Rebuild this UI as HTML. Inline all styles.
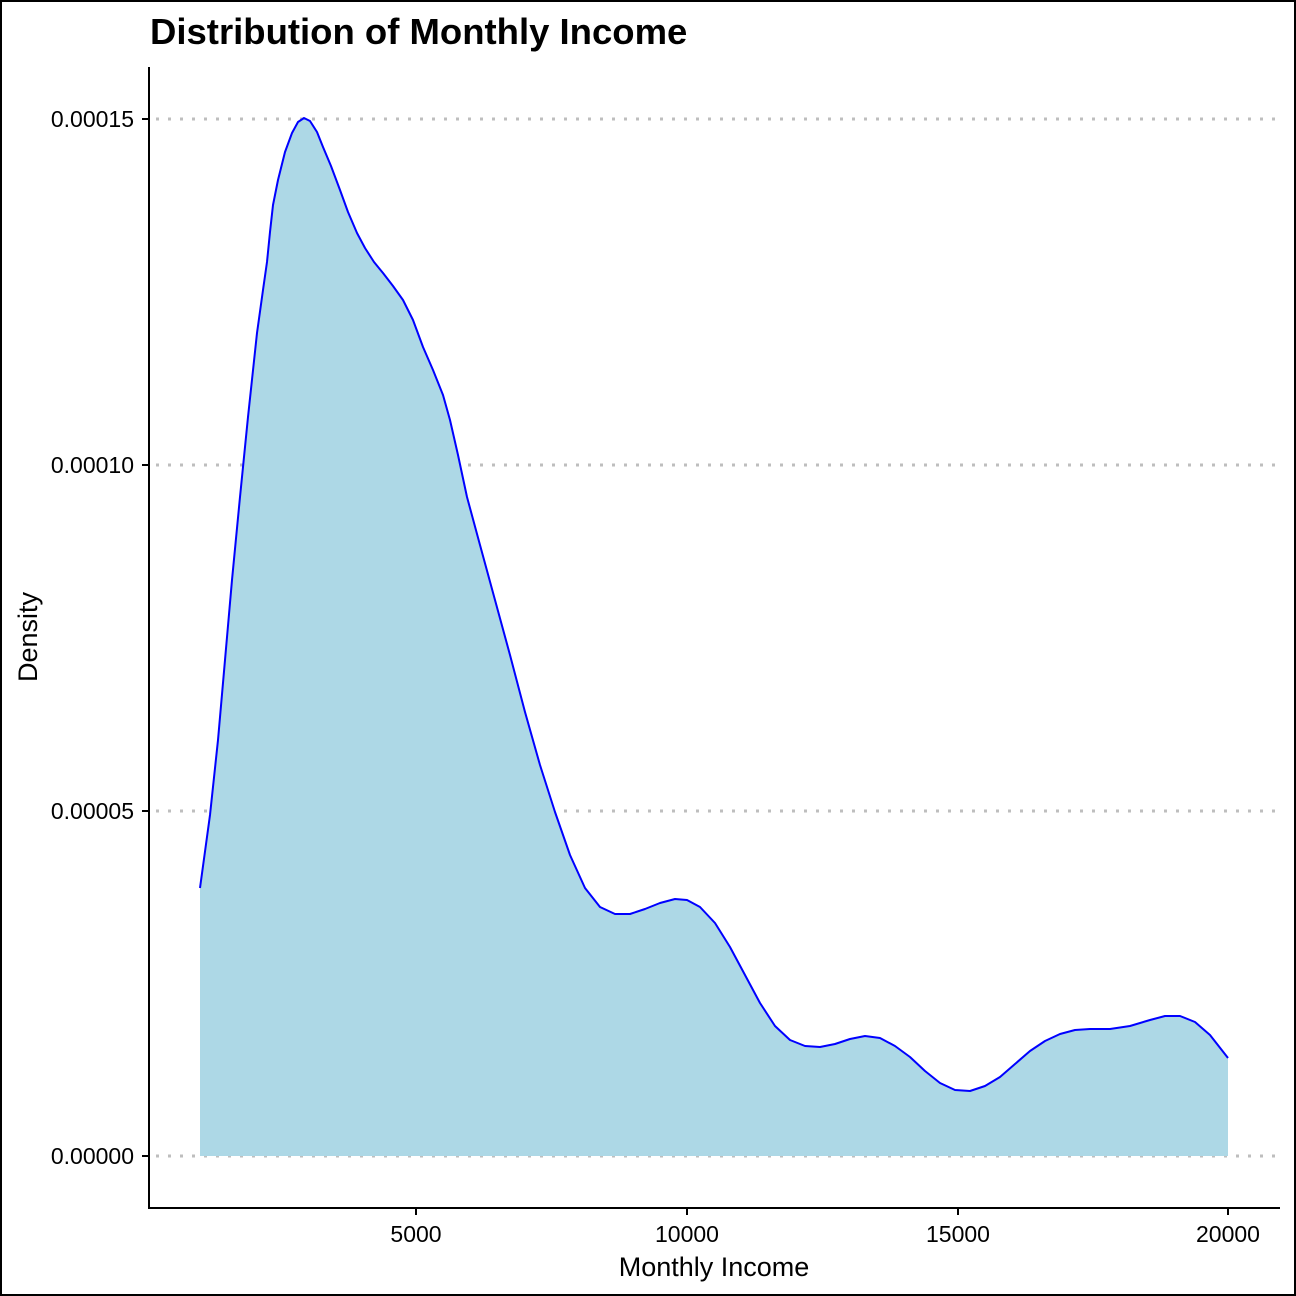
<!DOCTYPE html>
<html><head><style>
html,body{margin:0;padding:0;background:#fff}
svg{display:block}
text{font-family:"Liberation Sans",Arial,sans-serif}
</style></head><body>
<svg width="1296" height="1296" viewBox="0 0 1296 1296" xmlns="http://www.w3.org/2000/svg">
<rect x="1" y="1" width="1294" height="1294" fill="#fff" stroke="#000" stroke-width="2"/>
<text x="150" y="44" font-size="36.5" font-weight="bold" fill="#000">Distribution of Monthly Income</text>
<g stroke="#bebebe" stroke-width="3" stroke-dasharray="3 9">
<line x1="156" y1="119" x2="1280" y2="119"/>
<line x1="156" y1="465" x2="1280" y2="465"/>
<line x1="156" y1="811" x2="1280" y2="811"/>
<line x1="156" y1="1156" x2="1280" y2="1156"/>
</g>
<polygon fill="#add8e6" points="200,1156 200,888 210,815 218,740 225,660 232,580 240,497 248,417 257,333 263,290 267,262 270,232 273,205 278,180 285,152 292,133 298,122 304,118 310,121 317,132 323,147 331,166 340,190 348,212 357,233 365,248 374,262 383,273 393,286 403,300 413,320 423,347 433,370 443,395 450,420 458,455 467,497 480,545 495,600 510,655 525,712 540,765 555,812 570,855 585,888 600,907 615,914 630,914 645,909 660,903 675,899 687,900 700,907 715,923 730,947 745,975 760,1003 775,1026 790,1040 805,1046 820,1047 835,1044 850,1039 865,1036 880,1038 895,1046 910,1057 925,1071 940,1083 955,1090 970,1091 985,1086 1000,1077 1015,1064 1030,1051 1045,1041 1060,1034 1075,1030 1090,1029 1110,1029 1130,1026 1150,1020 1165,1016 1180,1016 1195,1022 1210,1035 1228,1058 1228,1156"/>
<polyline fill="none" stroke="#0000ff" stroke-width="2" stroke-linejoin="round" points="200,888 210,815 218,740 225,660 232,580 240,497 248,417 257,333 263,290 267,262 270,232 273,205 278,180 285,152 292,133 298,122 304,118 310,121 317,132 323,147 331,166 340,190 348,212 357,233 365,248 374,262 383,273 393,286 403,300 413,320 423,347 433,370 443,395 450,420 458,455 467,497 480,545 495,600 510,655 525,712 540,765 555,812 570,855 585,888 600,907 615,914 630,914 645,909 660,903 675,899 687,900 700,907 715,923 730,947 745,975 760,1003 775,1026 790,1040 805,1046 820,1047 835,1044 850,1039 865,1036 880,1038 895,1046 910,1057 925,1071 940,1083 955,1090 970,1091 985,1086 1000,1077 1015,1064 1030,1051 1045,1041 1060,1034 1075,1030 1090,1029 1110,1029 1130,1026 1150,1020 1165,1016 1180,1016 1195,1022 1210,1035 1228,1058"/>
<g stroke="#000" stroke-width="2">
<line x1="149" y1="67" x2="149" y2="1209"/>
<line x1="148" y1="1208" x2="1280" y2="1208"/>
<line x1="142" y1="119" x2="149" y2="119"/>
<line x1="142" y1="465" x2="149" y2="465"/>
<line x1="142" y1="811" x2="149" y2="811"/>
<line x1="142" y1="1156" x2="149" y2="1156"/>
<line x1="416" y1="1208" x2="416" y2="1215"/>
<line x1="687" y1="1208" x2="687" y2="1215"/>
<line x1="958" y1="1208" x2="958" y2="1215"/>
<line x1="1228" y1="1208" x2="1228" y2="1215"/>
</g>
<g font-size="23" fill="#000" text-anchor="end">
<text x="134" y="127">0.00015</text>
<text x="134" y="473">0.00010</text>
<text x="134" y="819">0.00005</text>
<text x="134" y="1164">0.00000</text>
</g>
<g font-size="23" fill="#000" text-anchor="middle">
<text x="416" y="1242">5000</text>
<text x="687" y="1242">10000</text>
<text x="958" y="1242">15000</text>
<text x="1228" y="1242">20000</text>
</g>
<text x="714" y="1276" font-size="27" text-anchor="middle" fill="#000">Monthly Income</text>
<text transform="translate(37,637) rotate(-90)" font-size="27" text-anchor="middle" fill="#000">Density</text>
</svg>
</body></html>
